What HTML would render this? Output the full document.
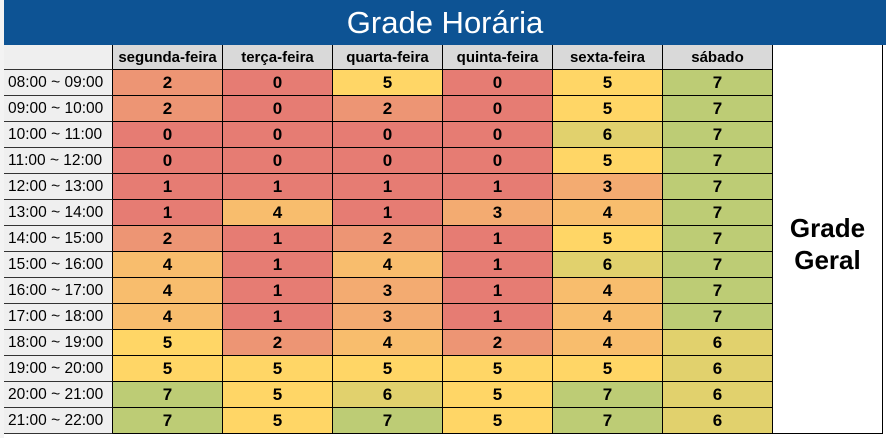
<!DOCTYPE html>
<html><head><meta charset="utf-8">
<style>
body{margin:0;width:886px;height:438px;background:#fff;position:relative;overflow:hidden;font-family:"Liberation Sans",sans-serif}
#title{position:absolute;left:4px;top:0;width:882px;height:45px;background:#0d5394;color:#fff;font-size:31px;text-align:center;line-height:46px}
#strip{position:absolute;left:0;top:0;width:4px;height:438px;background:#f3f3f3}
.c{position:absolute;box-sizing:border-box;border-right:1px solid #000;border-bottom:1px solid #000;text-align:center;font-weight:bold;font-size:17px;line-height:26px;color:#000}
.h{font-size:15px;background:#d9d9d9;line-height:25px}
.r{background:#efefef;font-weight:normal;font-size:15.5px;border-right:1px solid #000;text-align:left;padding-left:4px;border-bottom:1px solid #333}
#geral{position:absolute;left:773px;top:45px;width:110px;height:389px;box-sizing:border-box;border-right:1px solid #000;border-bottom:1px solid #000;font-weight:bold;font-size:26px;display:flex;align-items:center;justify-content:center;text-align:center;line-height:32px;padding-top:10px}
</style></head><body>
<div id="strip"></div>
<div id="title">Grade Horária</div>
<div id="geral">Grade<br>Geral</div>
<div id="grid"></div>
<script>
const days=["segunda-feira","terça-feira","quarta-feira","quinta-feira","sexta-feira","sábado"];
const slots=["08:00 ~ 09:00","09:00 ~ 10:00","10:00 ~ 11:00","11:00 ~ 12:00","12:00 ~ 13:00","13:00 ~ 14:00","14:00 ~ 15:00","15:00 ~ 16:00","16:00 ~ 17:00","17:00 ~ 18:00","18:00 ~ 19:00","19:00 ~ 20:00","20:00 ~ 21:00","21:00 ~ 22:00"];
const segunda=[2,2,0,0,1,1,2,4,4,4,5,5,7,7];
const terca=[0,0,0,0,1,4,1,1,1,1,2,5,5,5];
const quarta=[5,2,0,0,1,1,2,4,3,3,4,5,6,7];
const quinta=[0,0,0,0,1,3,1,1,1,1,2,5,5,5];
const sexta=[5,5,6,5,3,4,5,6,4,4,4,5,7,7];
const sabado=[7,7,7,7,7,7,7,7,7,7,6,6,6,6];
const series=[segunda,terca,quarta,quinta,sexta,sabado];
const palette=["#e67c73","#e67c73","#ed9574","#f3ab71","#f8bd6d","#ffd666","#e1d16d","#bdcc75"];
const g=document.getElementById('grid');
const x0=113,cw=110,y0=70,rh=26,hy=45;
function mk(cls,l,t,w,h,txt){const d=document.createElement('div');d.className=cls;d.style.left=l+'px';d.style.top=t+'px';d.style.width=w+'px';d.style.height=h+'px';d.textContent=txt;g.appendChild(d);return d;}
const corner=mk('c r',4,hy,x0-4,25,'');


days.forEach((d,i)=>{const e=mk('c h',x0+i*cw,hy,cw,25,d);

});
slots.forEach((s,j)=>{const e=mk('c r',4,y0+j*rh,x0-4,rh,s);

});
series.forEach((arr,i)=>arr.forEach((v,j)=>{const e=mk('c',x0+i*cw,y0+j*rh,cw,rh,String(v));e.style.background=palette[v];

}));
</script>
</body></html>
